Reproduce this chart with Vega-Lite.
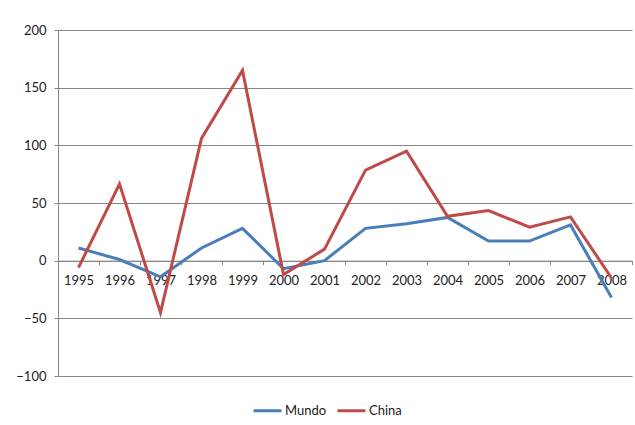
{
  "$schema": "https://vega.github.io/schema/vega-lite/v6.json",
  "width": 574,
  "height": 346,
  "autosize": {"type": "none"},
  "padding": {"left": 58, "top": 30, "right": 3, "bottom": 49},
  "background": "white",
  "config": {
    "view": {"stroke": null},
    "font": "Lato"
  },
  "data": {
    "values": [
      {"year": "1995", "series": "Mundo", "value": 11},
      {"year": "1996", "series": "Mundo", "value": 1},
      {"year": "1997", "series": "Mundo", "value": -14},
      {"year": "1998", "series": "Mundo", "value": 11},
      {"year": "1999", "series": "Mundo", "value": 28},
      {"year": "2000", "series": "Mundo", "value": -7},
      {"year": "2001", "series": "Mundo", "value": 0},
      {"year": "2002", "series": "Mundo", "value": 28},
      {"year": "2003", "series": "Mundo", "value": 32},
      {"year": "2004", "series": "Mundo", "value": 37.5},
      {"year": "2005", "series": "Mundo", "value": 17},
      {"year": "2006", "series": "Mundo", "value": 17},
      {"year": "2007", "series": "Mundo", "value": 31},
      {"year": "2008", "series": "Mundo", "value": -32},
      {"year": "1995", "series": "China", "value": -6},
      {"year": "1996", "series": "China", "value": 66.5},
      {"year": "1997", "series": "China", "value": -45},
      {"year": "1998", "series": "China", "value": 106},
      {"year": "1999", "series": "China", "value": 165},
      {"year": "2000", "series": "China", "value": -12},
      {"year": "2001", "series": "China", "value": 10},
      {"year": "2002", "series": "China", "value": 78.5},
      {"year": "2003", "series": "China", "value": 95},
      {"year": "2004", "series": "China", "value": 38.5},
      {"year": "2005", "series": "China", "value": 43.5},
      {"year": "2006", "series": "China", "value": 29},
      {"year": "2007", "series": "China", "value": 38},
      {"year": "2008", "series": "China", "value": -15}
    ]
  },
  "mark": {"type": "line", "strokeWidth": 3, "strokeCap": "butt", "strokeJoin": "miter"},
  "encoding": {
    "x": {
      "field": "year",
      "type": "ordinal",
      "bandPosition": 0.5,
      "scale": {"type": "band", "paddingInner": 0, "paddingOuter": 0},
      "axis": {
        "title": null,
        "offset": -115.33,
        "labelAngle": 0,
        "tickBand": "extent",
        "tickSize": 4,
        "tickColor": "#868686",
        "domainColor": "#868686",
        "labelFontSize": 13,
        "labelColor": "#222222",
        "labelPadding": 10,
        "grid": false
      }
    },
    "y": {
      "field": "value",
      "type": "quantitative",
      "scale": {"domain": [-100, 200], "nice": false, "zero": false},
      "axis": {
        "title": null,
        "values": [-100, -50, 0, 50, 100, 150, 200],
        "tickSize": 4,
        "tickColor": "#868686",
        "domainColor": "#868686",
        "gridColor": "#868686",
        "gridOpacity": 1,
        "labelFontSize": 13,
        "labelColor": "#222222",
        "labelPadding": 8
      }
    },
    "color": {
      "field": "series",
      "type": "nominal",
      "scale": {"domain": ["Mundo", "China"], "range": ["#4A7EBB", "#BE4B48"]},
      "legend": {
        "title": null,
        "orient": "none",
        "direction": "horizontal",
        "legendX": 194,
        "legendY": 365,
        "symbolType": "stroke",
        "symbolSize": 784,
        "symbolStrokeWidth": 3,
        "labelFontSize": 13,
        "labelColor": "#222222",
        "labelOffset": 2,
        "columnPadding": 4
      }
    }
  }
}
